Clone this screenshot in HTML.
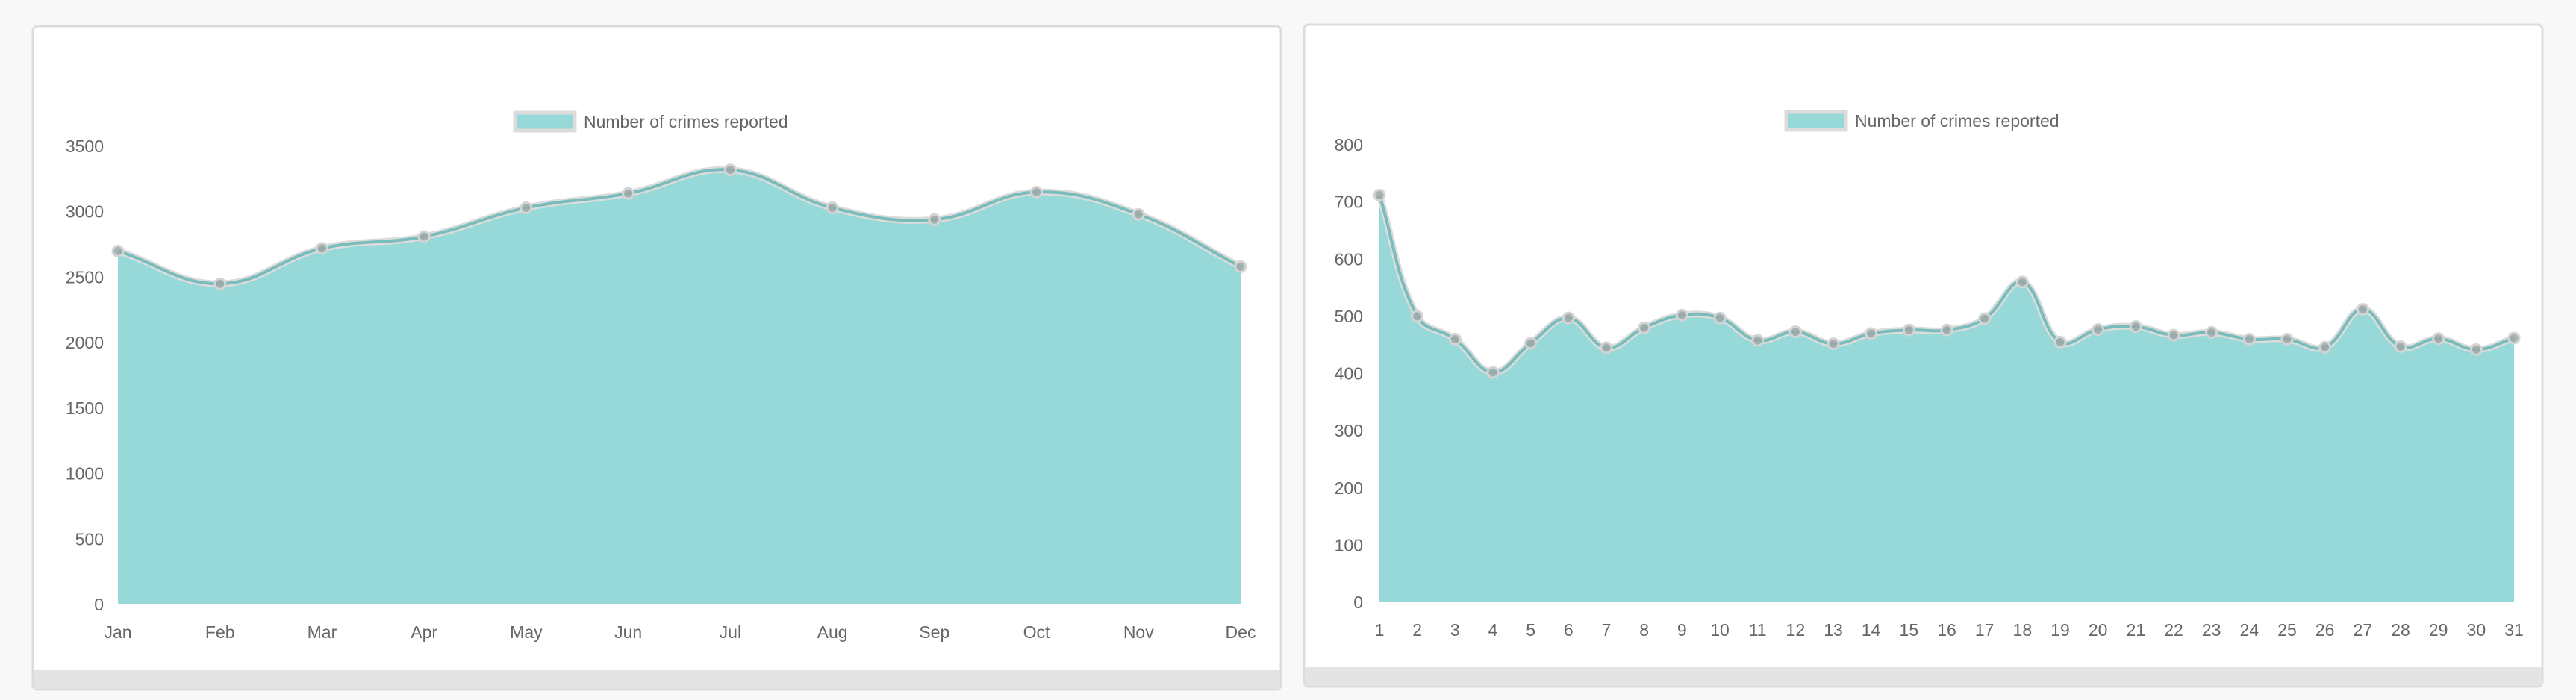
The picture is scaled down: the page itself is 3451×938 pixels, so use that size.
<!DOCTYPE html>
<html><head><meta charset="utf-8"><style>
html,body{margin:0;padding:0;background:#f8f8f8;width:3451px;height:938px;overflow:hidden;font-family:"Liberation Sans",sans-serif}
svg{position:absolute;left:0;top:0}
</style></head><body>
<svg id="s" width="3451" height="938" xmlns="http://www.w3.org/2000/svg">
<rect x="44" y="35" width="1672" height="889" rx="6" fill="#fff" stroke="#dcdcdc" stroke-width="3"/>
<rect x="45" y="898" width="1670" height="25" fill="#e4e4e4"/>
<rect x="1747" y="33" width="1659" height="887" rx="6" fill="#fff" stroke="#dcdcdc" stroke-width="3"/>
<rect x="1748" y="894" width="1657" height="25" fill="#e4e4e4"/>
<g id="c1"></g>
<g id="c2"></g>
</svg>
<script>
const monthLabels=["Jan","Feb","Mar","Apr","May","Jun","Jul","Aug","Sep","Oct","Nov","Dec"];
const monthValues=[2700,2450,2720,2810,3030,3140,3320,3030,2940,3150,2980,2580];
const monthTicks=[0,500,1000,1500,2000,2500,3000,3500];
const dayLabels=["1","2","3","4","5","6","7","8","9","10","11","12","13","14","15","16","17","18","19","20","21","22","23","24","25","26","27","28","29","30","31"];
const dayValues=[712,500,460,402,453,497,445,480,502,497,458,473,452,470,476,476,496,560,455,477,482,467,472,460,460,446,512,447,461,442,462];
const dayTicks=[0,100,200,300,400,500,600,700,800];
const NS="http://www.w3.org/2000/svg";
function mk(tag,attrs,parent){const e=document.createElementNS(NS,tag);for(const k in attrs)e.setAttribute(k,attrs[k]);parent.appendChild(e);return e;}
function draw(g,labels,values,ticks,cfg){
  const max=ticks[ticks.length-1];
  const X=i=>cfg.x0+(cfg.x1-cfg.x0)*i/(labels.length-1);
  const Y=v=>cfg.y0-(cfg.y0-cfg.yTop)*v/max;
  ticks.forEach(t=>{const e=mk('text',{x:cfg.yLabelX,y:Y(t)+8,'text-anchor':'end','font-size':23,fill:'#666'},g);e.textContent=t;
    
    });
  labels.forEach((l,i)=>{const e=mk('text',{x:X(i),y:cfg.xLabelY,'text-anchor':'middle','font-size':23,fill:'#666'},g);e.textContent=l;
    
    });
  const pts=values.map((v,i)=>({x:X(i),y:Y(v)}));
  const t=0.4;const cps=pts.map((p,i)=>{const pr=pts[Math.max(0,i-1)],nx=pts[Math.min(pts.length-1,i+1)];
    const d01=Math.hypot(p.x-pr.x,p.y-pr.y),d12=Math.hypot(nx.x-p.x,nx.y-p.y);
    let fa=d01/(d01+d12)||0,fb=d12/(d01+d12)||0;fa*=t;fb*=t;
    return {px:p.x-fa*(nx.x-pr.x),py:p.y-fa*(nx.y-pr.y),nx:p.x+fb*(nx.x-pr.x),ny:p.y+fb*(nx.y-pr.y)};});
  let d=`M${pts[0].x},${pts[0].y}`;
  for(let i=1;i<pts.length;i++){d+=` C${cps[i-1].nx},${cps[i-1].ny} ${cps[i].px},${cps[i].py} ${pts[i].x},${pts[i].y}`;}
  const area=mk('path',{d:d+` L${pts[pts.length-1].x},${cfg.y0} L${pts[0].x},${cfg.y0} Z`,fill:'#97d9d8'},g);
  
  
  const halo=mk('path',{d:d,fill:'none',stroke:'#dcdcdc',"stroke-width":9},g);
  
  
  const ln=mk('path',{d:d,fill:'none',stroke:'#78bdbb',"stroke-width":4},g);
  
  
  pts.forEach(p=>{const c=mk('circle',{cx:p.x,cy:p.y,r:7,fill:'#9aa8a8','fill-opacity':0.85,stroke:'#d4d4d4','stroke-width':3},g);
    
    });
  const lb=mk('rect',{x:cfg.legX,y:cfg.legY,width:80,height:24,fill:'#97d9d8',stroke:'#dcdcdc','stroke-width':5},g);
  
  
  const lt=mk('text',{x:cfg.legX+92,y:cfg.legY+20,'font-size':23,fill:'#666'},g);lt.textContent='Number of crimes reported';
  
  
}
draw(document.getElementById('c1'),monthLabels,monthValues,monthTicks,{x0:158,x1:1662,y0:810,yTop:196,yLabelX:139,xLabelY:855,legX:690,legY:151});
draw(document.getElementById('c2'),dayLabels,dayValues,dayTicks,{x0:1848,x1:3368,y0:807,yTop:194,yLabelX:1826,xLabelY:852,legX:2393,legY:150});
</script>
</body></html>
